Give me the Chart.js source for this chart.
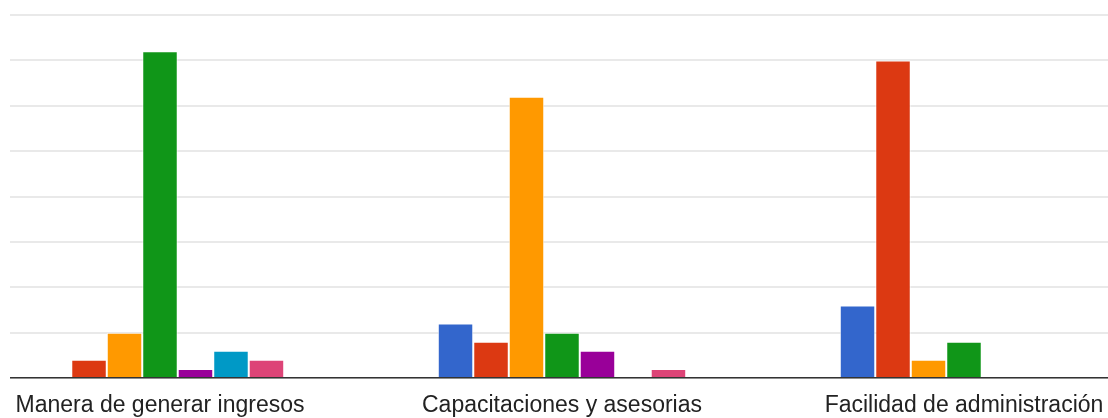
<!DOCTYPE html>
<html>
<head>
<meta charset="utf-8">
<script src="https://cdn.jsdelivr.net/npm/chart.js@4"></script>
<style>
  html, body { margin: 0; padding: 0; background: #fff; overflow: hidden; }
  #page { position: relative; width: 1108px; height: 418px; overflow: hidden; }
  #wrap { position: absolute; left: -41px; top: 0; width: 1206px; height: 418px; }
</style>
</head>
<body>
<div id="page"><div id="wrap"><canvas id="myChart"></canvas></div></div>
<script>
var categories = ['Manera de generar ingresos', 'Capacitaciones y asesorias', 'Facilidad de administración'];
var seriesNames = ['1', '2', '3', '4', '5', '6', '7'];
var serie1 = [0, 6, 8];
var serie2 = [2, 4, 35];
var serie3 = [5, 31, 2];
var serie4 = [36, 5, 4];
var serie5 = [1, 3, 0];
var serie6 = [3, 0, 0];
var serie7 = [2, 1, 0];
var colors = ['#3366cc', '#dc3912', '#ff9900', '#109618', '#990099', '#0099c6', '#dd4477'];

var allSeries = [serie1, serie2, serie3, serie4, serie5, serie6, serie7];
var datasets = [];
for (var i = 0; i < allSeries.length; i++) {
    datasets.push({
        label: seriesNames[i],
        data: allSeries[i],
        backgroundColor: colors[i],
        borderColor: 'rgba(255,255,255,0.7)',
        borderWidth: 1,
        categoryPercentage: 0.618,
        barPercentage: 1
    });
}

// google-style gridlines start a bit right of the canvas edge
var trimLeft = {
    id: 'trimLeft',
    beforeDatasetsDraw: function(chart) {
        var c = chart.ctx;
        c.save();
        c.fillStyle = '#ffffff';
        c.fillRect(chart.chartArea.left - 1, 0, 52, chart.chartArea.bottom + 3);
        c.restore();
    }
};

var ctx = document.getElementById('myChart').getContext('2d');
var chart = new Chart(ctx, {
    type: 'bar',
    data: { labels: categories, datasets: datasets },
    plugins: [trimLeft],
    options: {
        responsive: true,
        maintainAspectRatio: false,
        animation: false,
        layout: { padding: { top: 15, left: 0, right: 0, bottom: 0 } },
        plugins: { legend: { display: false }, tooltip: { enabled: false } },
        scales: {
            x: {
                grid: { display: false },
                border: { display: true, color: '#333333', width: 1.5 },
                ticks: {
                    color: '#222222',
                    padding: 6,
                    maxRotation: 0,
                    autoSkip: false,
                    font: { family: 'Liberation Sans, Arial, sans-serif', size: 23 }
                },
                afterFit: function(scale) { scale.height = 40; }
            },
            y: {
                min: 0,
                max: 40,
                ticks: { display: false, stepSize: 5 },
                border: { display: false },
                grid: { color: '#e9e9e9', lineWidth: 2, drawTicks: false },
                afterFit: function(scale) { scale.width = 0; }
            }
        }
    }
});
</script>
</body>
</html>
